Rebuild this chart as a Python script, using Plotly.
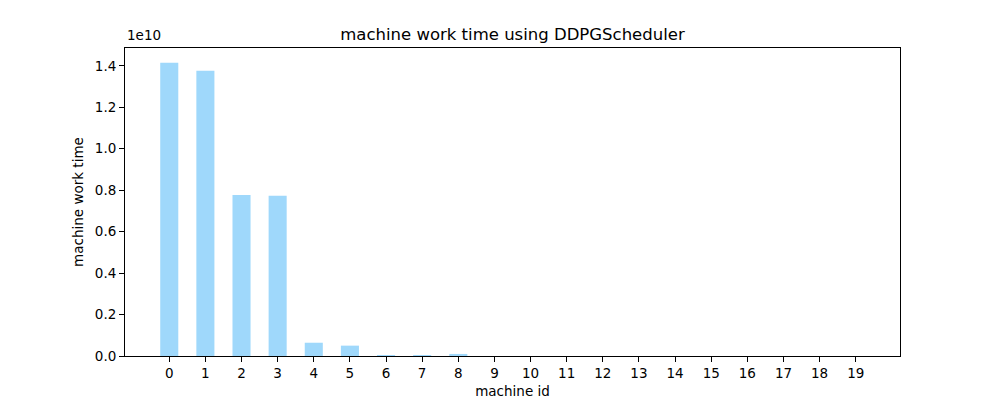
import plotly.graph_objects as go

machine_ids = list(range(20))
work_time = [1.415e10, 1.376e10, 0.777e10, 0.773e10, 0.064e10, 0.050e10,
             0.004e10, 0.004e10, 0.010e10, 0, 0, 0, 0, 0, 0, 0, 0, 0, 0, 0]
y_ticks = [0, 0.2e10, 0.4e10, 0.6e10, 0.8e10, 1.0e10, 1.2e10, 1.4e10]
y_tick_labels = ["0.0", "0.2", "0.4", "0.6", "0.8", "1.0", "1.2", "1.4"]

font = dict(family="DejaVu Sans", size=13.5, color="black")

fig = go.Figure()
fig.add_trace(go.Bar(
    x=machine_ids,
    y=work_time,
    width=0.5,
    marker=dict(color="#9fd8fb", line=dict(width=0)),
))

# page body has an 8px margin, so margins are shifted to land the axes where the reference has them
fig.update_layout(
    width=1000,
    height=400,
    margin=dict(l=117, r=108, t=40, b=52),
    paper_bgcolor="white",
    plot_bgcolor="white",
    font=font,
    showlegend=False,
    title=dict(text="machine work time using DDPGScheduler", x=0.5045, xanchor="center",
               y=0.935, yanchor="middle", font=dict(family="DejaVu Sans", size=16.5)),
    annotations=[dict(text="1e10", xref="paper", yref="paper", x=0, y=1.01,
                      xanchor="left", yanchor="bottom", showarrow=False,
                      font=font)],
)
fig.update_xaxes(
    range=[-1.225, 20.225],
    tickvals=machine_ids,
    ticktext=[str(m) for m in machine_ids],
    ticks="outside", ticklen=5, tickcolor="black",
    showline=True, linecolor="black", mirror=True, linewidth=1,
    showgrid=False, zeroline=False,
    title=dict(text="machine id", standoff=6, font=font),
)
fig.update_yaxes(
    range=[0, 1.486e10],
    tickvals=y_ticks,
    ticktext=y_tick_labels,
    ticks="outside", ticklen=5, tickcolor="black",
    showline=True, linecolor="black", mirror=True, linewidth=1,
    showgrid=False, zeroline=False,
    title=dict(text="machine work time", standoff=8, font=font),
)

fig.write_html("out.html")
